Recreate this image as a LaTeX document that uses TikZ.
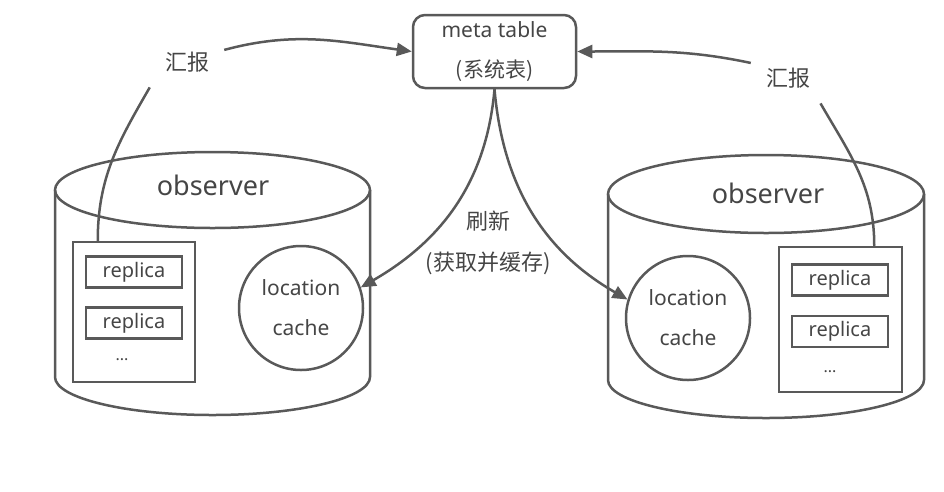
\documentclass[tikz,border=0pt]{standalone}
\usepackage{fontspec}
\setmainfont{Noto Sans}
\newfontfamily\cjk{Noto Sans CJK SC}
\usetikzlibrary{arrows.meta}
\definecolor{ln}{HTML}{595959}
\definecolor{tx}{HTML}{454545}
\begin{document}
\begin{tikzpicture}[x=1pt,y=1pt,line width=2.5pt,color=ln,text=tx,
  conn/.style={line width=2.5pt,color=ln},
  arr/.style={conn,-{Triangle[length=15pt,width=13pt]}},
  metabox/.style={draw,rounded corners=12pt,minimum width=163pt,minimum height=73pt,
    align=center,inner sep=0pt,font=\fontsize{21}{40}\selectfont},
  cachenode/.style={draw,circle,minimum size=124pt,inner sep=0pt,align=center,
    font=\fontsize{21}{40}\selectfont},
  contbox/.style={draw,rectangle,inner sep=0pt},
  repbox/.style={draw,minimum width=96pt,minimum height=31pt,inner sep=0pt,
    font=\fontsize{20}{20}\selectfont},
  dotsnode/.style={font=\fontsize{16}{16}\selectfont,inner sep=0pt},
  obsnode/.style={font=\fontsize{27}{27}\selectfont,inner sep=0pt},
  lbl/.style={font=\cjk\fontsize{22}{41}\selectfont,inner sep=0pt,align=center},
  replbl/.style={lbl,inner xsep=14pt,inner ysep=14pt}]
\useasboundingbox (0,0) rectangle (944,-491);

% cylinders
\draw (212.5,-190) ellipse[x radius=157.5,y radius=38];
\draw (55,-190) -- (55,-377) arc[start angle=180,end angle=360,x radius=157.5,y radius=38] -- (370,-190);
\draw (766,-194) ellipse[x radius=158,y radius=39];
\draw (608,-194) -- (608,-380) arc[start angle=180,end angle=360,x radius=158,y radius=38] -- (924,-194);
\node[obsnode] (lobs) at (213,-185) {observer};
\node[obsnode] (robs) at (768,-193) {observer};

% meta table
\node[metabox] (meta) at (494.5,-51.5) {meta table\\{\cjk (系统表)}};

% left observer content
\node[contbox,minimum width=122pt,minimum height=140pt] (lcont) at (134,-312) {};
\node[repbox] (lrep1) at (134,-272) {replica};
\node[repbox] (lrep2) at (134,-323) {replica};
\node[dotsnode] (ldots) at (122,-360) {...};
\node[cachenode] (lcache) at (301,-308) {location\\cache};

% right observer content
\node[contbox,minimum width=123pt,minimum height=145pt] (rcont) at (840.5,-319.5) {};
\node[repbox] (rrep1) at (840,-280) {replica};
\node[repbox] (rrep2) at (840,-331.5) {replica};
\node[dotsnode] (rdots) at (830,-372) {...};
\node[cachenode] (rcache) at (688,-318) {location\\cache};

% labels
\node[replbl] (rep1) at (187,-62) {汇报};
\node[replbl] (rep2) at (788,-78) {汇报};
\node[lbl] (refresh) at (488,-243) {刷新\\(获取并缓存)};

% connectors
\draw[conn] ([xshift=26pt]lcont.north west) to[out=90,in=-120] (rep1.south west);
\draw[arr] (rep1.18) to[out=15,in=172] (meta.west);
\draw[arr] (rep2.158) to[out=168,in=0] (meta.east);
\draw[conn] (rep2.-38) to[out=-60,in=90] ([xshift=-29pt]rcont.north east);
\draw[arr] (meta.south) to[out=-95,in=30] (lcache.19);
\draw[arr] (meta.south) to[out=-85,in=150] (rcache.163);
\end{tikzpicture}
\end{document}
